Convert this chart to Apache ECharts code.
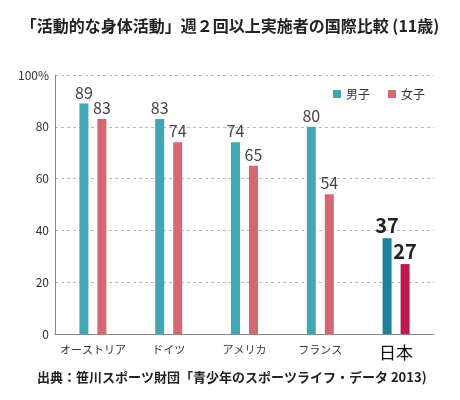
<!DOCTYPE html>
<html lang="ja">
<head>
    <meta charset="UTF-8">
    <title>活動的な身体活動 国際比較</title>
    <script src="https://cdn.jsdelivr.net/npm/echarts@6/dist/echarts.min.js"></script>
    <style>
        html, body { margin: 0; padding: 0; background: #fff; }
        #chart { width: 460px; height: 400px; }
    </style>
</head>
<body>
    <div id="chart"></div>
    <script>
        // Data
        var countries = ['オーストリア', 'ドイツ', 'アメリカ', 'フランス', '日本'];
        var boys = [89, 83, 74, 80, 37];
        var girls = [83, 74, 65, 54, 27];
        var seriesNames = ['男子', '女子'];

        var font = '"Noto Sans CJK JP", "Noto Sans", sans-serif';
        var boyColor = '#43a6b4', girlColor = '#d56873';
        var boyJp = '#1f8199', girlJp = '#c0184a';

        // Japan is highlighted: darker colour and bigger labels
        function build(values, normal, strong) {
            return values.map(function (v, i) {
                if (countries[i] !== '日本') return v;
                return {
                    value: v,
                    itemStyle: { color: strong },
                    label: { fontSize: 20, fontWeight: 'bold', color: '#222' }
                };
            });
        }

        var chart = echarts.init(document.getElementById('chart'));
        chart.setOption({
            animation: false,
            textStyle: { fontFamily: font },
            title: [{
                text: '「活動的な身体活動」週２回以上実施者の国際比較 (11歳)',
                left: 'center', top: 13,
                textStyle: { fontSize: 16, fontWeight: 'bold', color: '#222', fontFamily: font }
            }, {
                text: '出典：笹川スポーツ財団「青少年のスポーツライフ・データ 2013)',
                left: 32, top: 366,
                textStyle: { fontSize: 13, fontWeight: 'bold', color: '#222', fontFamily: font }
            }],
            legend: {
                data: seriesNames,
                right: 30, top: 83,
                itemWidth: 8, itemHeight: 8, itemGap: 18,
                icon: 'rect',
                textStyle: { fontSize: 12, color: '#333', fontFamily: font }
            },
            grid: { left: 55, right: 26, top: 75, bottom: 66 },
            xAxis: {
                type: 'category',
                data: countries.map(function (c) {
                    return c === '日本' ? { value: c, textStyle: { fontSize: 17, color: '#111' } } : c;
                }),
                axisLine: { lineStyle: { color: '#888' } },
                axisTick: { inside: true, length: 7, lineStyle: { color: '#888' } },
                axisLabel: { interval: 0, fontSize: 11, color: '#333', margin: 10, fontFamily: font }
            },
            yAxis: {
                type: 'value',
                min: 0, max: 100, interval: 20,
                axisLine: { show: true, lineStyle: { color: '#888' } },
                axisTick: { show: false },
                axisLabel: {
                    fontSize: 12, color: '#333', margin: 6, fontFamily: font,
                    formatter: function (v) { return v === 100 ? '100%' : v; }
                },
                splitLine: { lineStyle: { color: '#bbb', type: [3, 3] } }
            },
            series: [{
                name: seriesNames[0],
                type: 'bar',
                barWidth: 9,
                barGap: '100%',
                itemStyle: { color: boyColor },
                label: { show: true, position: 'top', distance: 3, fontSize: 16, color: '#444', fontFamily: font },
                data: build(boys, boyColor, boyJp)
            }, {
                name: seriesNames[1],
                type: 'bar',
                barWidth: 9,
                itemStyle: { color: girlColor },
                label: { show: true, position: 'top', distance: 3, fontSize: 16, color: '#444', fontFamily: font },
                data: build(girls, girlColor, girlJp)
            }]
        });
    </script>
</body>
</html>
